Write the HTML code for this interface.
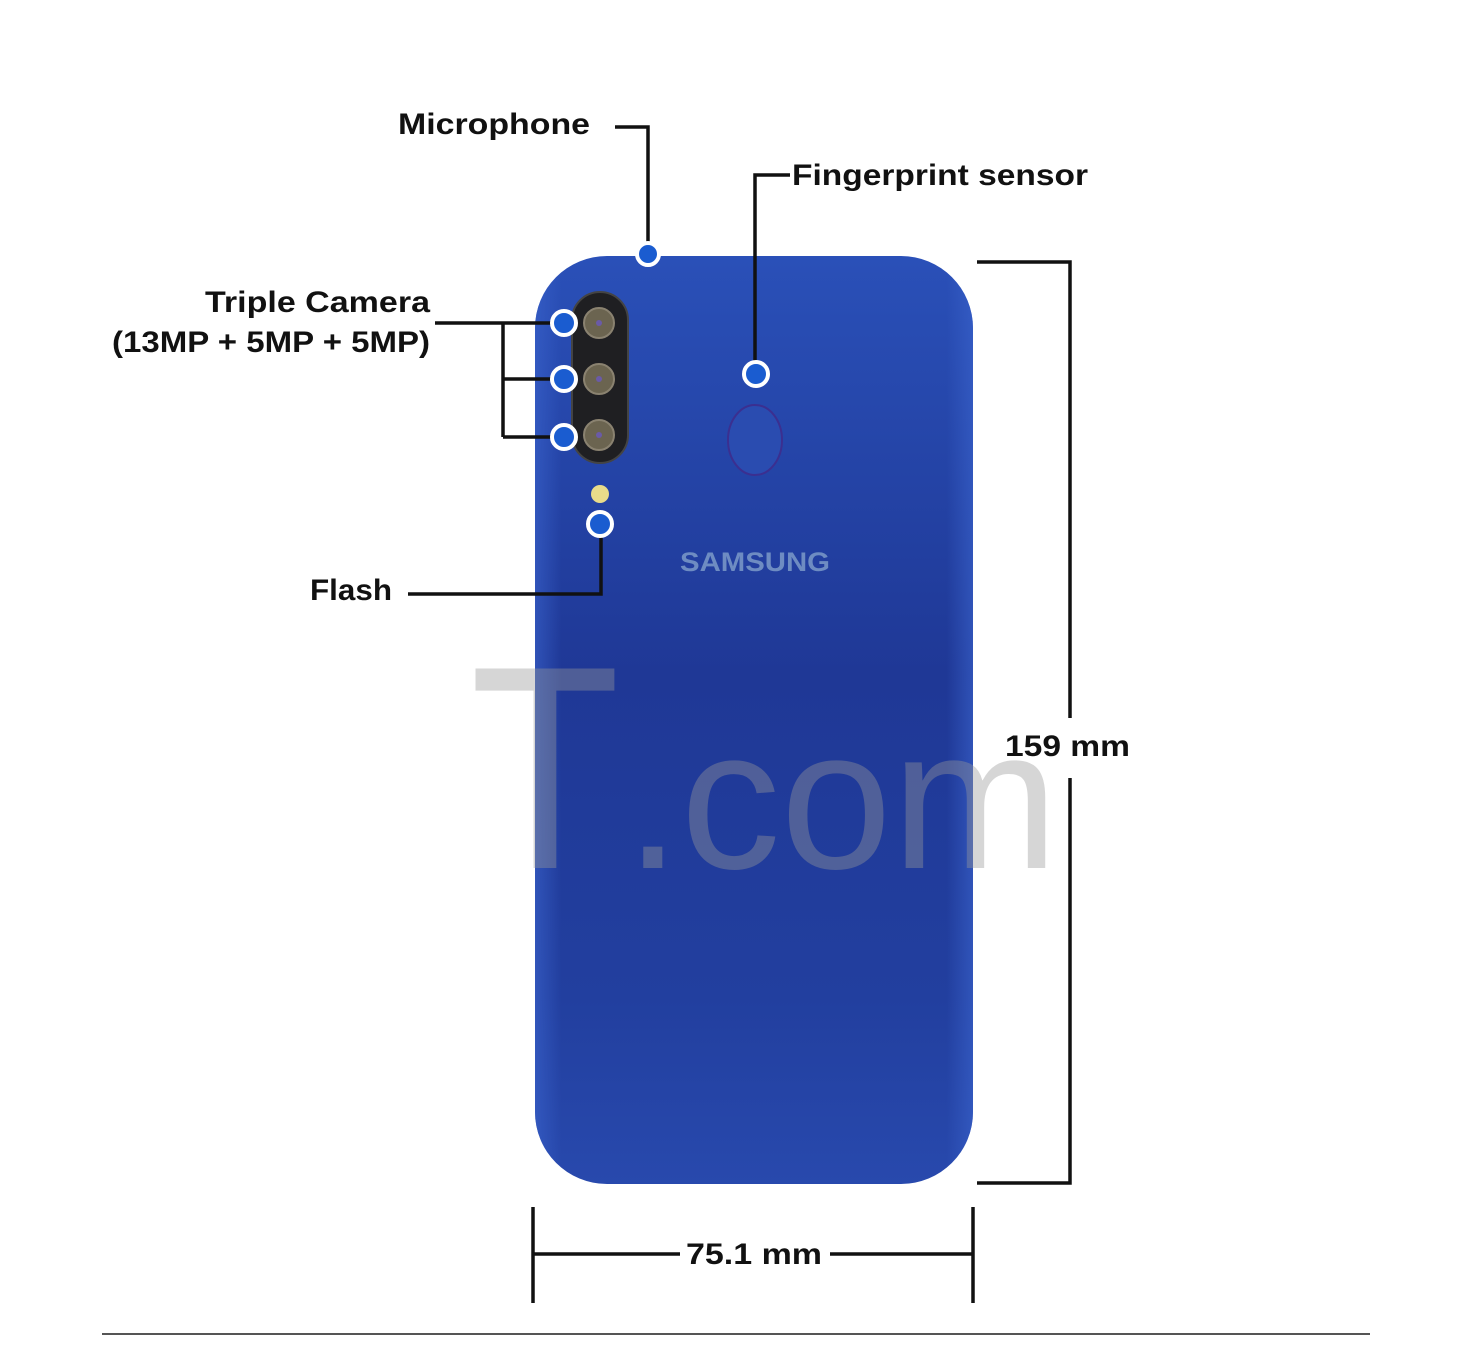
<!DOCTYPE html>
<html><head><style>
html,body{margin:0;padding:0;background:#fff;}
svg{display:block;}
text{font-family:"Liberation Sans",sans-serif;font-weight:bold;}
</style></head><body>
<svg width="1472" height="1345" viewBox="0 0 1472 1345" xmlns="http://www.w3.org/2000/svg">
<defs>
<linearGradient id="g" x1="0" y1="0" x2="0" y2="1">
<stop offset="0" stop-color="#2a50b8"/>
<stop offset="0.45" stop-color="#1f3896"/>
<stop offset="0.8" stop-color="#223f9f"/>
<stop offset="1" stop-color="#2849ad"/>
</linearGradient>
<linearGradient id="h" x1="0" y1="0" x2="1" y2="0">
<stop offset="0" stop-color="#3a63cc" stop-opacity="0.6"/>
<stop offset="0.06" stop-color="#3a63cc" stop-opacity="0"/>
<stop offset="0.94" stop-color="#3a63cc" stop-opacity="0"/>
<stop offset="1" stop-color="#3a63cc" stop-opacity="0.6"/>
</linearGradient>
</defs>
<rect x="535" y="256" width="438" height="928" rx="72" fill="url(#g)"/>
<rect x="535" y="256" width="438" height="928" rx="72" fill="url(#h)"/>
<text x="470" y="868" font-size="290" fill="#999" fill-opacity="0.4" style="font-weight:normal" textLength="150" lengthAdjust="spacingAndGlyphs">T</text>
<text x="625" y="868" font-size="200" fill="#999" fill-opacity="0.4" style="font-weight:normal">.com</text>
<rect x="572" y="292" width="56" height="171" rx="28" fill="#1f1f22" stroke="#444" stroke-width="2"/>
<g fill="#6b6450" stroke="#8a8270" stroke-width="2">
<circle cx="599" cy="323" r="15"/><circle cx="599" cy="379" r="15"/><circle cx="599" cy="435" r="15"/>
</g>
<g fill="#6a5aa8"><circle cx="599" cy="323" r="3"/><circle cx="599" cy="379" r="3"/><circle cx="599" cy="435" r="3"/></g>
<circle cx="600" cy="494" r="9" fill="#e9dc8a"/>
<ellipse cx="755" cy="440" rx="27" ry="35" fill="#2a4cb0" stroke="#3b2f90" stroke-width="2"/>
<text x="680" y="571" font-size="27" fill="#6e8cc2" textLength="150" lengthAdjust="spacingAndGlyphs">SAMSUNG</text>
<g stroke="#111" stroke-width="3.5" fill="none">
<polyline points="615,127 648,127 648,254"/>
<polyline points="790,175 755,175 755,374"/>
<line x1="435" y1="323" x2="564" y2="323"/>
<line x1="503" y1="323" x2="503" y2="437"/>
<line x1="503" y1="379" x2="564" y2="379"/>
<line x1="503" y1="437" x2="564" y2="437"/>
<polyline points="408,594 601,594 601,524"/>
<polyline points="977,262 1070,262 1070,718"/>
<polyline points="1070,778 1070,1183 977,1183"/>
<line x1="533" y1="1207" x2="533" y2="1303"/>
<line x1="973" y1="1207" x2="973" y2="1303"/>
<line x1="533" y1="1254" x2="680" y2="1254"/>
<line x1="830" y1="1254" x2="973" y2="1254"/>
</g>
<g fill="#1a5cd0" stroke="#fff" stroke-width="4">
<circle cx="648" cy="254" r="11"/>
<circle cx="756" cy="374" r="12"/>
<circle cx="564" cy="323" r="12"/>
<circle cx="564" cy="379" r="12"/>
<circle cx="564" cy="437" r="12"/>
<circle cx="600" cy="524" r="12"/>
</g>
<g fill="#111" font-size="30">
<text x="398" y="134" textLength="192" lengthAdjust="spacingAndGlyphs">Microphone</text>
<text x="792" y="185" textLength="296" lengthAdjust="spacingAndGlyphs">Fingerprint sensor</text>
<text x="205" y="312" textLength="225" lengthAdjust="spacingAndGlyphs">Triple Camera</text>
<text x="112" y="352" textLength="318" lengthAdjust="spacingAndGlyphs">(13MP + 5MP + 5MP)</text>
<text x="310" y="600" textLength="82" lengthAdjust="spacingAndGlyphs">Flash</text>
<text x="1005" y="756" textLength="125" lengthAdjust="spacingAndGlyphs">159 mm</text>
<text x="686" y="1264" textLength="136" lengthAdjust="spacingAndGlyphs">75.1 mm</text>
</g>
<line x1="102" y1="1334" x2="1370" y2="1334" stroke="#555" stroke-width="2"/>
</svg>
</body></html>
